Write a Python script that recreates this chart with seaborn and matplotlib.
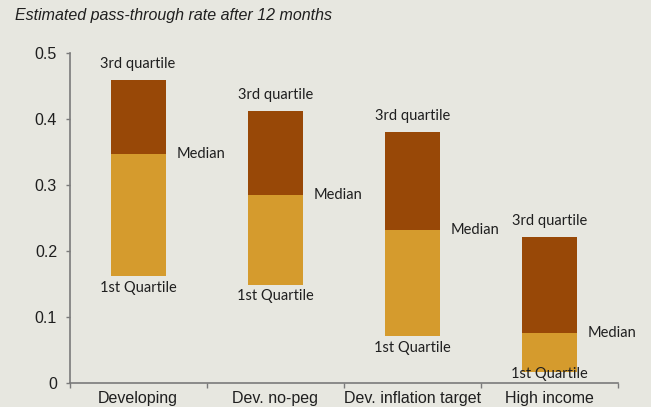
import matplotlib
matplotlib.use("Agg")
import matplotlib.pyplot as plt
import numpy as np
import pandas as pd
import seaborn as sns

# Distribution of estimated exchange-rate pass-through after 12 months
groups = ["Developing", "Dev. no-peg", "Dev. inflation target", "High income"]
q1 = [0.162, 0.149, 0.071, 0.017]
median = [0.347, 0.285, 0.232, 0.075]
q3 = [0.460, 0.413, 0.380, 0.221]

df = pd.DataFrame({"group": groups, "q1": q1, "median": median, "q3": q3})
df["lower"] = df["median"] - df["q1"]
df["upper"] = df["q3"] - df["median"]

BG = "#e7e7e0"
GOLD = "#d59b2d"
BROWN = "#984807"
AXIS = "#7a7a7a"
TEXT = "#1f1f1f"

sns.set_style("ticks")
plt.rcParams["font.family"] = ["Liberation Sans", "DejaVu Sans"]

fig = plt.figure(figsize=(6.51, 4.07), dpi=100, facecolor=BG)
ax = fig.add_axes([0.1068, 0.0597, 0.8425, 0.8094], facecolor=BG)

# interquartile boxes: first quartile to median, then median to third quartile
sns.barplot(data=df, x="group", y="lower", order=groups, bottom=df["q1"].values,
            color=GOLD, saturation=1, width=0.4, errorbar=None,
            linewidth=0, edgecolor="none", ax=ax)
sns.barplot(data=df, x="group", y="upper", order=groups, bottom=df["median"].values,
            color=BROWN, saturation=1, width=0.4, errorbar=None,
            linewidth=0, edgecolor="none", ax=ax)

ax.set_xlim(-0.5, len(groups) - 0.5)
ax.set_ylim(0, 0.5)
ax.set_yticks(np.arange(0, 0.51, 0.1))
ax.set_yticklabels(["0", "0.1", "0.2", "0.3", "0.4", "0.5"])

# category boundaries carry the tick marks, names sit between them
ax.set_xticks(np.arange(-0.5, len(groups), 1.0))
ax.set_xticklabels([])
ax.set_xticks(np.arange(len(groups)), minor=True)
ax.set_xticklabels(groups, minor=True)
ax.tick_params(axis="x", which="major", direction="out", length=3.5, width=1, color=AXIS)
ax.tick_params(axis="x", which="minor", length=0, pad=6, labelsize=11.5, labelcolor=TEXT)
ax.tick_params(axis="y", direction="out", length=3, width=1, color=AXIS, pad=6,
               labelsize=11.5, labelcolor=TEXT)
ax.set_xlabel("")
ax.set_ylabel("")

for side in ("top", "right"):
    ax.spines[side].set_visible(False)
for side in ("left", "bottom"):
    ax.spines[side].set_color(AXIS)
    ax.spines[side].set_linewidth(1.2)

label_font = dict(family=["Lato", "DejaVu Sans"], fontsize=10.5, color=TEXT)
for i, row in df.iterrows():
    ax.annotate("3rd quartile", (i, row["q3"]), xytext=(0, 11.5),
                textcoords="offset points", ha="center", va="center", **label_font)
    ax.annotate("Median", (i + 0.2, row["median"]), xytext=(8, 0),
                textcoords="offset points", ha="left", va="center", **label_font)
    ax.text(i, max(row["q1"] - 0.018, 0.0132), "1st Quartile",
            ha="center", va="center", **label_font)

fig.text(0.023, 0.962, "Estimated pass-through rate after 12 months",
         fontsize=11.5, style="italic", color=TEXT, ha="left", va="center")

fig.savefig("out.png", dpi=100, facecolor=BG)
